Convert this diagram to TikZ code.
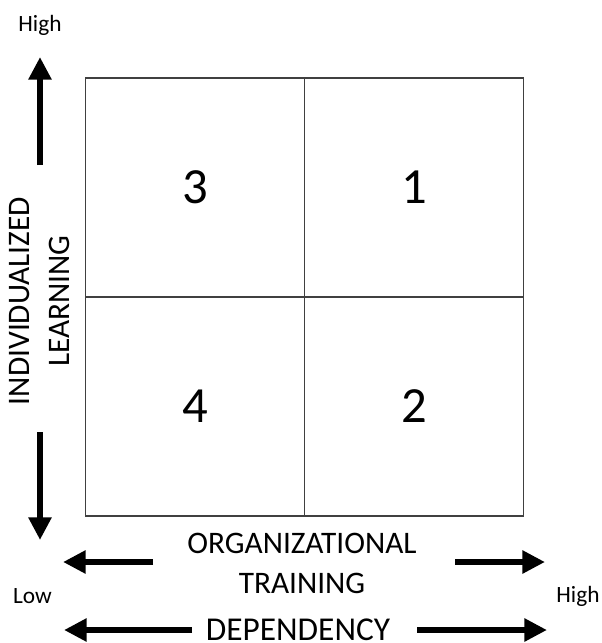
\documentclass[tikz,border=0pt]{standalone}
\usepackage{fontspec}
\setmainfont{Carlito}
\usetikzlibrary{
  arrows.meta,  % Tip "Triangle"
  positioning,  % Function "of" (e.g. [right=of x])
}
\def\mycell{219}
\tikzset{
  x=0.75pt,
  y=-0.75pt,
  my cell/.style={
    draw=black!75,
    line width=0.8pt,
    minimum width=\mycell*0.75pt,
    minimum height=\mycell*0.75pt,
    outer sep=0pt,
    inner sep=0pt,
    font=\fontsize{38}{38}\selectfont,
    rectangle
  },
  axis label/.style={
    align=center,
    inner sep=0pt,
    font=\fontsize{23.5}{30}\selectfont
  },
  end label/.style={
    inner sep=0pt,
    anchor=base,
    font=\fontsize{17.5}{20}\selectfont
  },
  big arrow/.style={
    line width=5.2pt,
    -{Triangle[length=17pt,width=16.5pt]}
  }
}

\begin{document}
\begin{tikzpicture}
\useasboundingbox (0,0) rectangle (602,643);
% quadrants
\node[my cell]                (3) at (195,187.5) {3};
\node[my cell]                (1) [right=0pt of 3] {1};
\node[my cell]                (4) [below=0pt of 3] {4};
\node[my cell]                (2) [right=0pt of 4] {2};
% axis texts
\node[axis label,rotate=90]   (il)  at (40,301)  {INDIVIDUALIZED\\LEARNING};
\node[axis label]             (ot)  at (302,563) {ORGANIZATIONAL\\TRAINING};
\node[axis label,font=\fontsize{25}{30}\selectfont]
                              (dep) at (298,630) {DEPENDENCY};
\node[end label]              (hi)  at (40,31)   {High};
\node[end label]              (lo)  at (32.5,603) {Low};
\node[end label]              (hr)  at (578,602) {High};
% arrow ends
\coordinate (up0) at (40,165);
\coordinate (up1) at (40,57);
\coordinate (dn0) at (40,432);
\coordinate (dn1) at (40,540);
\coordinate (ol0) at (153,562);
\coordinate (ol1) at (63,562);
\coordinate (or0) at (455,562);
\coordinate (or1) at (545,562);
\coordinate (dl0) at (192,630);
\coordinate (dl1) at (64,630);
\coordinate (dr0) at (417,630);
\coordinate (dr1) at (547,630);
\foreach \a in {up,dn,ol,or,dl,dr}
  \draw[big arrow] (\a0) -- (\a1);
\end{tikzpicture}
\end{document}
